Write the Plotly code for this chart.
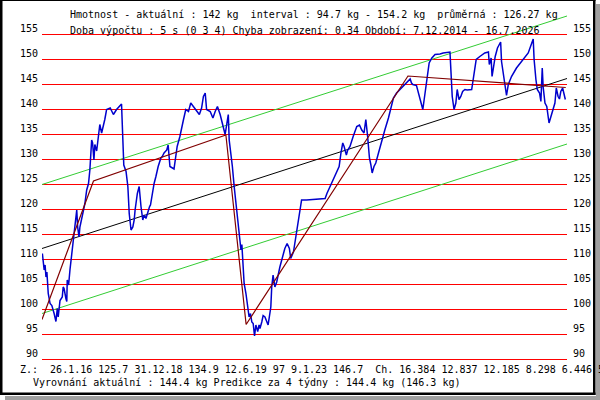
import plotly.graph_objects as go

# weight readings (decimal year, kg)
years = [
    2014.94, 2014.98, 2015.00, 2015.02, 2015.04, 2015.07, 2015.11, 2015.15, 2015.20, 2015.24,
    2015.27, 2015.29, 2015.33, 2015.38, 2015.40, 2015.42, 2015.46, 2015.48, 2015.49, 2015.52,
    2015.55, 2015.59, 2015.62, 2015.66, 2015.70, 2015.72, 2015.75, 2015.77, 2015.81, 2015.85,
    2015.88, 2015.92, 2015.96, 2015.99, 2016.03, 2016.05, 2016.08, 2016.10, 2016.14, 2016.18,
    2016.21, 2016.25, 2016.29, 2016.32, 2016.36, 2016.44, 2016.51, 2016.58, 2016.69, 2016.71,
    2016.74, 2016.79, 2016.83, 2016.86, 2016.90, 2016.94, 2016.97, 2016.99, 2017.04, 2017.08,
    2017.10, 2017.12, 2017.16, 2017.19, 2017.23, 2017.26, 2017.31, 2017.33, 2017.37, 2017.41,
    2017.45, 2017.50, 2017.56, 2017.59, 2017.63, 2017.69, 2017.72, 2017.76, 2017.85, 2017.89,
    2017.92, 2017.98, 2018.02, 2018.06, 2018.11, 2018.17, 2018.22, 2018.28, 2018.35, 2018.41,
    2018.46, 2018.50, 2018.54, 2018.57, 2018.65, 2018.71, 2018.76, 2018.81, 2018.87, 2018.94,
    2018.98, 2019.02, 2019.05, 2019.07, 2019.10, 2019.14, 2019.18, 2019.22, 2019.24, 2019.29,
    2019.31, 2019.33, 2019.35, 2019.37, 2019.40, 2019.44, 2019.47, 2019.49, 2019.51, 2019.54,
    2019.57, 2019.60, 2019.63, 2019.66, 2019.70, 2019.73, 2019.75, 2019.79, 2019.82, 2019.86,
    2019.90, 2019.93, 2019.99, 2020.01, 2020.04, 2020.08, 2020.12, 2020.19, 2020.27, 2020.30,
    2020.35, 2020.40, 2020.43, 2020.49, 2020.52, 2020.56, 2020.60, 2020.64, 2020.67, 2020.78,
    2020.97, 2021.19, 2021.23, 2021.30, 2021.37, 2021.45, 2021.50, 2021.54, 2021.58, 2021.61,
    2021.66, 2021.69, 2021.74, 2021.81, 2021.89, 2021.95, 2022.00, 2022.05, 2022.09, 2022.13,
    2022.17, 2022.20, 2022.23, 2022.27, 2022.31, 2022.37, 2022.44, 2022.51, 2022.59, 2022.64,
    2022.70, 2022.77, 2022.85, 2022.96, 2023.07, 2023.10, 2023.13, 2023.21, 2023.27, 2023.31,
    2023.35, 2023.38, 2023.41, 2023.45, 2023.49, 2023.55, 2023.62, 2023.73, 2023.80, 2023.95,
    2023.97, 2024.00, 2024.04, 2024.08, 2024.11, 2024.15, 2024.19, 2024.23, 2024.28, 2024.33,
    2024.43, 2024.47, 2024.53, 2024.61, 2024.72, 2024.80, 2024.82, 2024.86, 2024.88, 2024.91,
    2024.95, 2025.00, 2025.07, 2025.09, 2025.14, 2025.20, 2025.24, 2025.31, 2025.42, 2025.57,
    2025.68, 2025.79, 2025.81, 2025.85, 2025.88, 2025.93, 2025.96, 2025.99, 2026.01, 2026.05,
    2026.09, 2026.14, 2026.20, 2026.27, 2026.30, 2026.34, 2026.37, 2026.40, 2026.44, 2026.46,
    2026.50,
]
weights = [
    111.2, 107.9, 108.9, 106.5, 107.5, 103.2, 101.2, 100.8, 99.2, 97.6,
    100.2, 98.5, 101.8, 102.5, 104.5, 104.2, 102.2, 101.6, 105.9, 104.9,
    107.9, 111.2, 114.5, 117.9, 119.9, 116.5, 114.5, 116.5, 118.6, 119.9,
    121.2, 123.9, 125.2, 127.9, 133.9, 133.3, 129.9, 133.0, 131.7, 134.6,
    137.0, 135.3, 136.6, 138.0, 140.0, 140.3, 139.0, 140.0, 141.1, 134.6,
    128.9, 127.6, 124.6, 119.2, 115.9, 116.5, 117.9, 119.9, 123.2, 124.6,
    121.9, 120.6, 117.9, 118.9, 118.2, 119.2, 120.6, 120.9, 123.2, 125.2,
    126.6, 128.6, 130.3, 130.6, 131.3, 131.9, 132.9, 128.6, 128.1, 130.6,
    132.6, 134.6, 136.6, 138.0, 140.0, 139.6, 141.3, 140.6, 139.6, 139.0,
    140.3, 142.6, 143.3, 140.0, 139.6, 138.3, 139.6, 140.6, 139.0, 136.6,
    135.0, 137.3, 139.0, 133.9, 132.0, 128.6, 124.6, 121.2, 118.6, 115.2,
    114.0, 111.9, 113.0, 108.5, 105.2, 103.2, 101.2, 99.2, 98.5, 99.2,
    97.5, 97.2, 94.7, 96.9, 95.6, 96.9, 96.2, 97.5, 98.8, 98.5,
    97.5, 96.9, 100.5, 104.5, 106.9, 104.5, 105.5, 108.5, 111.2, 112.2,
    113.2, 112.2, 110.2, 111.5, 113.2, 115.5, 117.5, 119.6, 121.9, 121.9,
    122.1, 122.2, 123.2, 124.6, 125.9, 127.3, 128.6, 131.3, 133.3, 132.6,
    130.9, 131.9, 132.6, 134.6, 136.6, 136.9, 135.9, 135.3, 138.0, 134.6,
    130.3, 129.0, 127.3, 128.6, 129.3, 131.3, 133.9, 135.9, 138.3, 139.9,
    142.3, 143.3, 144.0, 145.0, 146.1, 145.3, 145.0, 144.8, 142.6, 141.3,
    140.0, 142.0, 144.3, 147.3, 149.3, 150.3, 151.0, 151.1, 151.3, 151.5,
    147.0, 142.6, 140.0, 141.3, 144.0, 142.0, 142.6, 143.6, 144.0, 143.9,
    144.0, 146.6, 150.0, 150.6, 151.3, 151.5, 149.0, 150.3, 146.6, 148.3,
    150.6, 152.3, 153.5, 149.6, 146.6, 142.8, 145.0, 146.6, 148.3, 150.0,
    151.3, 154.1, 150.0, 146.0, 144.0, 143.3, 141.6, 148.3, 144.5, 141.3,
    140.6, 137.3, 139.3, 141.3, 144.3, 142.6, 142.1, 143.6, 144.3, 143.3,
    142.0,
]

# piecewise smoothing (breakpoints from the Z.: line)
trend_years = [2014.932, 2016.07, 2018.997, 2019.444, 2023.022, 2026.51]
trend_weights = [98.0, 125.7, 134.9, 97.0, 146.7, 144.4]

# linear fit and its band
reg_years = [2014.932, 2026.537]
reg_weights = [112.2, 146.2]
upper_band = [125.0, 158.7]
lower_band = [99.2, 133.1]

grid_values = [90, 95, 100, 105, 110, 115, 120, 125, 130, 135, 140, 145, 150, 155]

line1 = "Hmotnost - aktuální : 142 kg \u00a0interval : 94.7 kg - 154.2 kg \u00a0průměrná : 126.27 kg"
line2 = "Doba výpočtu : 5 s (0 3 4) Chyba zobrazení: 0.34 Období: 7.12.2014 - 16.7.2026"
line3 = ("Z.: \u00a026.1.16 125.7 31.12.18 134.9 12.6.19 97 9.1.23 146.7 \u00a0Ch. "
         "16.384 12.837 12.185 8.298 6.446 5")
line4 = "Vyrovnání aktuální : 144.4 kg Predikce za 4 týdny : 144.4 kg (146.3 kg)"

W, H = 600, 400
L, R, T, B = 42, 33, 10, 35
PW, PH = W - L - R, H - T - B
MONO = "DejaVu Sans Mono"


def px(x):
    return (x - L) / PW


def py(y):
    return (H - B - y) / PH


fig = go.Figure()

for band in (upper_band, lower_band):
    fig.add_trace(go.Scatter(x=reg_years, y=band, mode="lines",
                             line=dict(color="#33cc33", width=1)))
fig.add_trace(go.Scatter(x=reg_years, y=reg_weights, mode="lines",
                         line=dict(color="#000000", width=1)))
fig.add_trace(go.Scatter(x=years, y=weights, mode="lines",
                         line=dict(color="#0000cc", width=1.5)))
fig.add_trace(go.Scatter(x=trend_years, y=trend_weights, mode="lines",
                         line=dict(color="#800000", width=1.2)))

annotations = []
shapes = []
for v in grid_values:
    # red scale line + value on both sides
    shapes.append(dict(type="line", xref="paper", yref="y", x0=0, x1=1, y0=v, y1=v,
                       line=dict(color="#ff0000", width=1), layer="below"))
    annotations.append(dict(xref="paper", yref="y", x=0, y=v, xanchor="right", yanchor="middle",
                            xshift=-2, yshift=6, text=str(v), showarrow=False))
    annotations.append(dict(xref="paper", yref="y", x=1, y=v, xanchor="left", yanchor="middle",
                            xshift=4, yshift=6, text=str(v), showarrow=False))

for txt, x0, y0 in [(line1, 68, 15), (line2, 68, 30), (line3, 18, 369), (line4, 31, 382)]:
    annotations.append(dict(xref="paper", yref="paper", x=px(x0), y=py(y0), xanchor="left",
                            yanchor="middle", text=txt, showarrow=False))

# black frame + grey shadow
for x0, y0, x1, y1, c in [
    (596, 4, 600, 400, "#a0a0a0"), (5, 396, 600, 400, "#a0a0a0"),
    (0, 0, 2.5, 395, "#000000"), (0, 0, 595.5, 1, "#000000"),
    (593, 0, 595.5, 395, "#000000"), (0, 392.5, 595.5, 395, "#000000"),
]:
    shapes.append(dict(type="rect", xref="paper", yref="paper", x0=px(x0), x1=px(x1),
                       y0=py(y1), y1=py(y0), fillcolor=c, line=dict(width=0), layer="above"))

fig.update_layout(
    width=W, height=H,
    margin=dict(l=L, r=R, t=T, b=B),
    paper_bgcolor="white", plot_bgcolor="white",
    showlegend=False,
    font=dict(family=MONO, size=10, color="black"),
    xaxis=dict(range=[2014.932, 2026.537], visible=False),
    # 5 px per kg so every grid line lands on a pixel row
    yaxis=dict(range=[88.9, 159.9], visible=False),
    annotations=annotations,
    shapes=shapes,
)

# page has a default 8px body margin; drop it so the figure sits at 0,0
fig.write_html("out.html", config={"displayModeBar": False},
               post_script="document.body.style.margin='0';")
